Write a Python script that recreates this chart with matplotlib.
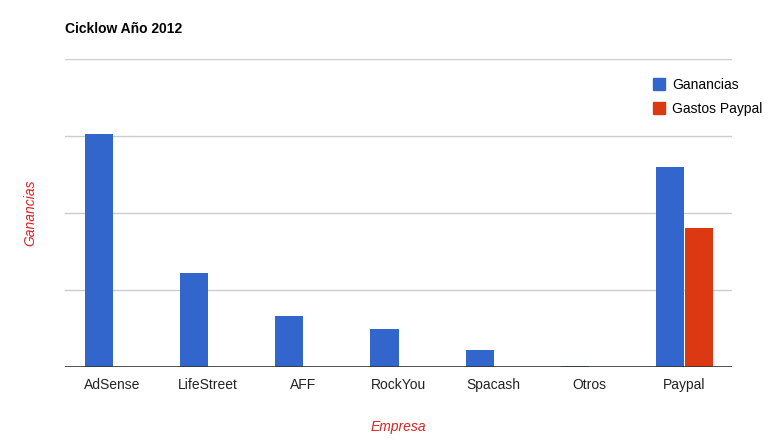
import matplotlib.pyplot as plt
import numpy as np
from matplotlib.patches import Patch

plt.rcParams['font.family'] = ['Liberation Sans', 'DejaVu Sans']

empresas = ['AdSense', 'LifeStreet', 'AFF', 'RockYou', 'Spacash', 'Otros', 'Paypal']
ganancias = [3.03, 1.22, 0.66, 0.49, 0.22, 0.01, 2.60]
gastos_paypal = [0, 0, 0, 0, 0, 0, 1.81]
grid_vals = [1, 2, 3, 4]

fig = plt.figure(figsize=(7.83, 4.45), dpi=100)
ax = fig.add_axes([65/783, 78/445, 667/783, 308/445])

x = np.arange(len(empresas))
w = 0.294
ax.bar(x - w/2, ganancias, w, color='#3366cc', zorder=3)
ax.bar(x + w/2 + 0.005, gastos_paypal, w, color='#dc3912', zorder=3)

ax.set_xlim(-0.5, len(empresas) - 0.5)
ax.set_ylim(0, 4)
for g in grid_vals:
    ax.axhline(g, color='#cccccc', lw=1, zorder=1)
ax.axhline(0, color='#333333', lw=1.2, zorder=4)

for s in ax.spines.values():
    s.set_visible(False)
ax.set_yticks([])
ax.set_xticks(x)
ax.set_xticklabels(empresas, fontsize=10, color='#222222')
ax.tick_params(axis='x', length=0, pad=8)

ax.set_xlabel('Empresa', fontsize=10, style='italic', color='#dd2222', labelpad=20)
fig.text(30/783, 1 - 213/445, 'Ganancias', fontsize=10, style='italic', color='#dd2222',
         rotation=90, ha='center', va='center')
fig.text(65/783, 1 - 29/445, 'Cicklow Año 2012', fontsize=10, fontweight='bold',
         ha='left', va='center')

handles = [Patch(color='#3366cc', label='Ganancias'), Patch(color='#dc3912', label='Gastos Paypal')]
fig.legend(handles=handles, loc='upper left', bbox_to_anchor=(647/783, 1 - 72/445),
           frameon=False, fontsize=10, handlelength=0.9, handleheight=0.9,
           handletextpad=0.5, labelspacing=0.75, borderaxespad=0)

fig.savefig('out.png', dpi=100, facecolor='white')
